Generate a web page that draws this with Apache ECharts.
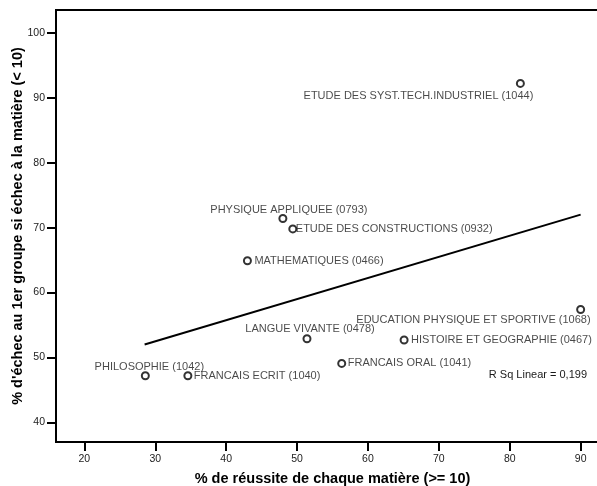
<!DOCTYPE html>
<html>
<head>
<meta charset="utf-8">
<script src="https://cdn.jsdelivr.net/npm/echarts@6/dist/echarts.min.js"></script>
<style>
  html, body { margin: 0; padding: 0; background: #fff; }
  #main { width: 597px; height: 486px; }
</style>
</head>
<body>
<div id="main"></div>
<script>
// matières (libellé + code)
var subjects = [
  'ETUDE DES SYST.TECH.INDUSTRIEL (1044)',
  'PHYSIQUE APPLIQUEE (0793)',
  'ETUDE DES CONSTRUCTIONS (0932)',
  'MATHEMATIQUES (0466)',
  'PHILOSOPHIE (1042)',
  'FRANCAIS ECRIT (1040)',
  'LANGUE VIVANTE (0478)',
  'FRANCAIS ORAL (1041)',
  'HISTOIRE ET GEOGRAPHIE (0467)',
  'EDUCATION PHYSIQUE ET SPORTIVE (1068)'
];
// % de réussite (>= 10)
var reussite = [81.5, 48.0, 49.4, 43.0, 28.6, 34.6, 51.4, 56.3, 65.1, 90.0];
// % d'échec au 1er groupe si échec (< 10)
var echec = [92.2, 71.4, 69.8, 64.9, 47.2, 47.2, 52.9, 49.1, 52.7, 57.4];
// droite de régression (extrémités)
var fitX = [28.5, 90];
var fitY = [52.0, 72.0];
var rSq = 'R Sq Linear = 0,199';
var xTicks = [20, 30, 40, 50, 60, 70, 80, 90];
var yTicks = [40, 50, 60, 70, 80, 90, 100];

// placement des étiquettes : [align, dx, dy]
var labelPlace = [
  ['right', 13, 13],
  ['center', 6, -9],
  ['left', 3, 0],
  ['left', 7, 0],
  ['center', 4, -9],
  ['left', 6, 0],
  ['center', 3, -10],
  ['left', 6, 0],
  ['left', 7, 0],
  ['right', 10, 10]
];

var font = "'Liberation Sans', Arial, sans-serif";

var points = subjects.map(function (s, i) {
  var p = labelPlace[i];
  return {
    name: s,
    value: [reussite[i], echec[i]],
    label: {
      show: true,
      formatter: s,
      position: 'inside',
      align: p[0],
      verticalAlign: 'middle',
      offset: [p[1], p[2]]
    }
  };
});

var fitLine = fitX.map(function (x, i) { return [x, fitY[i]]; });

var myChart = echarts.init(document.getElementById('main'));
var option = {
  animation: false,
  textStyle: { fontFamily: font },
  grid: {
    left: 56, top: 10, bottom: 44, right: -12,
    outerBoundsMode: 'none',
    show: true, borderColor: '#000', borderWidth: 2
  },
  xAxis: {
    type: 'value', min: 16, max: 94,
    name: '% de réussite de chaque matière (>= 10)',
    nameLocation: 'middle', nameGap: 29,
    nameTextStyle: { fontSize: 14.5, fontWeight: 'bold', color: '#000', fontFamily: font },
    splitLine: { show: false },
    axisLine: { lineStyle: { color: '#000', width: 2 } },
    axisTick: { customValues: xTicks, length: 9, lineStyle: { color: '#000', width: 2 } },
    axisLabel: { customValues: xTicks, fontSize: 10.5, color: '#222', margin: 12, fontFamily: font }
  },
  yAxis: {
    type: 'value', min: 37, max: 103.5,
    name: "% d'échec au 1er groupe si échec à la matière (< 10)",
    nameLocation: 'middle', nameGap: 31, nameMoveOverlap: false,
    nameTextStyle: { fontSize: 14.5, fontWeight: 'bold', color: '#000', fontFamily: font },
    splitLine: { show: false },
    axisLine: { lineStyle: { color: '#000', width: 2 } },
    axisTick: { customValues: yTicks, length: 9, lineStyle: { color: '#000', width: 2 } },
    axisLabel: { customValues: yTicks, fontSize: 10.5, color: '#222', margin: 11, fontFamily: font }
  },
  series: [
    {
      type: 'line',
      data: fitLine,
      symbol: 'none',
      lineStyle: { color: '#000', width: 2 },
      silent: true
    },
    {
      type: 'scatter',
      data: points,
      symbol: 'emptyCircle',
      symbolSize: 7,
      itemStyle: { color: '#000', borderColor: '#000', borderWidth: 2 },
      label: { fontSize: 11, color: '#1a1a1a', fontFamily: font }
    }
  ],
  graphic: [{
    type: 'text',
    right: 10, top: 369,
    style: { text: rSq, fontSize: 11, fill: '#1a1a1a', fontFamily: font }
  }]
};
myChart.setOption(option);
</script>
</body>
</html>
